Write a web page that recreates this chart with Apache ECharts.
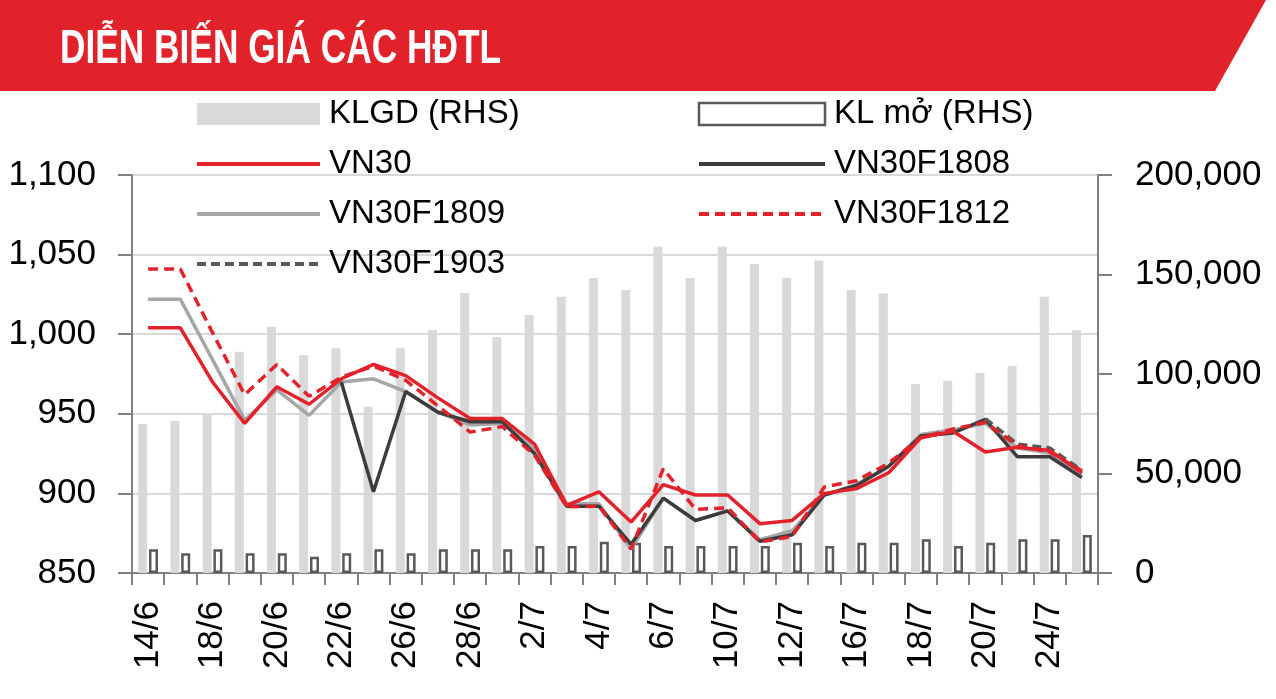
<!DOCTYPE html>
<html>
<head>
<meta charset="utf-8">
<script src="https://cdn.jsdelivr.net/npm/echarts@6/dist/echarts.min.js"></script>
<style>html,body{margin:0;padding:0;background:#fff}#c{width:1276px;height:699px}</style>
</head>
<body>
<div id="c"></div>
<script>
var dates = ['14/6','15/6','18/6','19/6','20/6','21/6','22/6','25/6','26/6','27/6','28/6','29/6','2/7','3/7','4/7','5/7','6/7','9/7','10/7','11/7','12/7','13/7','16/7','17/7','18/7','19/7','20/7','23/7','24/7','25/7'];
var klgd = [74900,76400,79400,111200,123800,109500,112900,83600,113000,122100,140700,118600,129600,138800,148200,142200,164000,148200,164000,155300,148200,157000,142200,140500,95000,96600,100500,104000,138800,122000];
var klmo = [11900,9900,11900,9900,9900,8200,9900,11900,9900,11900,11900,11900,13600,13600,15700,15200,13600,13600,13600,13600,15200,13600,15200,15200,16900,13600,15200,16900,16900,19100];
var vn30 = [1004,1004,970,944,967,956,972,981,974,960,947,947,931,892.5,901,882,905.5,899,899,881,883,900,903,913,935,939,926,929,927,913];
var f1808 = [null,null,null,null,null,null,970,901,964,951,945,945,925,892,892,868,897,883,889,870,874,899,905,917,936,938,946.5,923,923,910];
var f1809 = [1022,1022,984,946,965,949,970,972,964,951,943,944,928,893.5,893.5,865,897,883,889,871,876.5,899,905.5,917,937,940,944,928.5,925.5,912];
var f1812 = [1041,1041,1001,962,981,961,973,980,971,955,938.5,942,924,891.5,892,865,915.5,890,891,869.5,873,904,908,919,935,940.5,944.5,930,926,914];
var f1903 = [null,null,null,null,null,null,null,null,null,null,null,null,null,null,null,null,null,null,null,null,null,null,null,null,null,null,947,931,928.5,914.5];
var leftTicks = [850, 1100, 50];
var rightTicks = [0, 200000, 50000];

var FONT = "'Liberation Sans',Arial,sans-serif";
var RED = '#e2222a';
function fmt(v){ return v.toLocaleString('en-US'); }

var chart = echarts.init(document.getElementById('c'));
var legendText = {fontSize: 33, lineHeight: 42, fontFamily: FONT, color: '#000', padding: [0,0,0,4]};
var hideSym = {opacity: 0};
chart.setOption({
  animation: false,
  backgroundColor: '#fff',
  graphic: [
    {type: 'polygon', z: 100, shape: {points: [[0,0],[1266,0],[1215,91],[0,91]]}, style: {fill: RED}},
    {type: 'text', z: 101, left: 60, top: 25, scaleX: 0.72,
     style: {text: 'DIỄN BIẾN GIÁ CÁC HĐTL', fill: '#fff', font: "bold 49px 'Liberation Sans', Arial, sans-serif"}}
  ],
  legend: [
    {left: 190, top: 88, orient: 'vertical', itemWidth: 123, itemHeight: 22, itemGap: 8, selectedMode: false,
     textStyle: legendText, lineStyle: {width: 4},
     data: [{name: 'KLGD (RHS)', icon: 'rect'}, {name: 'VN30', itemStyle: hideSym}, {name: 'VN30F1809', itemStyle: hideSym}, {name: 'VN30F1903', itemStyle: hideSym}]},
    {left: 692, top: 88, orient: 'vertical', itemWidth: 126, itemHeight: 22, itemGap: 8, selectedMode: false,
     textStyle: legendText, lineStyle: {width: 4},
     data: [{name: 'KL mở (RHS)', icon: 'rect', itemStyle: {color: '#fff', borderColor: '#595959', borderWidth: 2.5}}, {name: 'VN30F1808', itemStyle: hideSym}, {name: 'VN30F1812', itemStyle: hideSym}]}
  ],
  grid: {left: 132, right: 178, top: 175, bottom: 126, containLabel: false},
  xAxis: {
    type: 'category', data: dates, boundaryGap: true,
    axisLine: {lineStyle: {color: '#808080', width: 2}},
    axisTick: {show: true, interval: 0, length: 12, lineStyle: {color: '#808080', width: 2}},
    axisLabel: {interval: 1, rotate: 90, margin: 28, fontSize: 35, fontFamily: FONT, color: '#000'}
  },
  yAxis: [
    {type: 'value', min: leftTicks[0], max: leftTicks[1], interval: leftTicks[2],
     axisLine: {show: true, lineStyle: {color: '#808080', width: 2}},
     axisTick: {show: true, length: 14, lineStyle: {color: '#808080', width: 2}},
     splitLine: {lineStyle: {color: '#d9d9d9', width: 2}},
     axisLabel: {margin: 36, fontSize: 35, fontFamily: FONT, color: '#000', formatter: fmt}},
    {type: 'value', min: rightTicks[0], max: rightTicks[1], interval: rightTicks[2], position: 'right',
     axisLine: {show: true, lineStyle: {color: '#808080', width: 2}},
     axisTick: {show: true, length: 14, lineStyle: {color: '#808080', width: 2}},
     splitLine: {show: false},
     axisLabel: {margin: 37, fontSize: 35, fontFamily: FONT, color: '#000', formatter: fmt}}
  ],
  series: [
    {name: 'KLGD (RHS)', type: 'bar', yAxisIndex: 1, data: klgd, barWidth: 9, barGap: '20%', itemStyle: {color: '#d9d9d9'}, z: 1},
    {name: 'KL mở (RHS)', type: 'bar', yAxisIndex: 1, data: klmo, barWidth: 9, itemStyle: {color: '#fff', borderColor: '#595959', borderWidth: 2.5}, z: 1},
    {name: 'VN30F1809', type: 'line', data: f1809, symbol: 'none', lineStyle: {color: '#a6a6a6', width: 3.5}, itemStyle: {color: '#a6a6a6'}, z: 3},
    {name: 'VN30F1808', type: 'line', data: f1808, symbol: 'none', lineStyle: {color: '#3c3c3c', width: 3.5}, itemStyle: {color: '#3c3c3c'}, z: 4},
    {name: 'VN30F1903', type: 'line', data: f1903, symbol: 'none', lineStyle: {color: '#595959', width: 3.5, type: [9,5]}, itemStyle: {color: '#595959'}, z: 5},
    {name: 'VN30F1812', type: 'line', data: f1812, symbol: 'none', lineStyle: {color: RED, width: 3.5, type: [10,6]}, itemStyle: {color: RED}, z: 6},
    {name: 'VN30', type: 'line', data: vn30, symbol: 'none', lineStyle: {color: RED, width: 3.5}, itemStyle: {color: RED}, z: 7}
  ]
});
</script>
</body>
</html>
